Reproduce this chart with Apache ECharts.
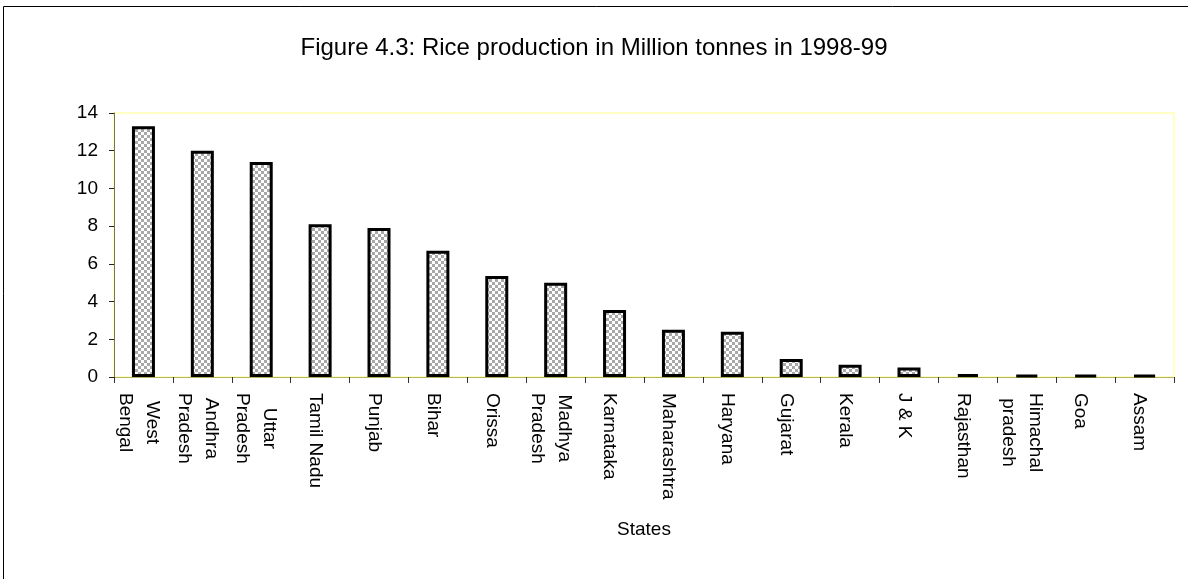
<!DOCTYPE html>
<html>
<head>
<meta charset="utf-8">
<title>Rice production 1998-99</title>
<script src="https://cdn.jsdelivr.net/npm/echarts@6/dist/echarts.min.js"></script>
<style>
  html, body { margin: 0; padding: 0; background: #ffffff; }
  #chart { width: 1188px; height: 579px; }
</style>
</head>
<body>
<div id="chart"></div>
<script>
// Rice production by state, million tonnes, 1998-99
const states = [
  'West\nBengal', 'Andhra\nPradesh', 'Uttar\nPradesh', 'Tamil Nadu', 'Punjab',
  'Bihar', 'Orissa', 'Madhya\nPradesh', 'Karnataka', 'Maharashtra', 'Haryana',
  'Gujarat', 'Kerala', 'J & K', 'Rajasthan', 'Himachal\npradesh', 'Goa', 'Assam'
];
const production = [
  13.3, 12.0, 11.4, 8.1, 7.9,
  6.7, 5.35, 5.0, 3.55, 2.5, 2.4,
  0.95, 0.65, 0.5, 0.15, 0.1, 0.1, 0.1
];
const yTicks = { min: 0, max: 14, step: 2 };
const titleText = 'Figure 4.3: Rice production in Million tonnes in 1998-99';
const xAxisTitle = 'States';

const FONT = '"Liberation Sans", Arial, Helvetica, sans-serif';

// Grey and white checkerboard fill for the bars
function checkerPattern(cell, grey) {
  const c = document.createElement('canvas');
  c.width = cell * 2;
  c.height = cell * 2;
  const g = c.getContext('2d');
  g.fillStyle = '#ffffff';
  g.fillRect(0, 0, c.width, c.height);
  g.fillStyle = grey;
  g.fillRect(0, 0, cell, cell);
  g.fillRect(cell, cell, cell, cell);
  return c;
}

const chart = echarts.init(document.getElementById('chart'), null, { renderer: 'canvas' });

chart.setOption({
  backgroundColor: '#ffffff',
  animation: false,
  title: {
    text: titleText,
    left: 'center',
    top: 31,
    textStyle: { fontFamily: FONT, fontSize: 24, fontWeight: 'normal', color: '#000' }
  },
  // chart-area frame (its right and bottom edges run off the page)
  graphic: [{
    type: 'rect',
    silent: true,
    shape: { x: 3.5, y: 6.5, width: 2000, height: 2000 },
    style: { fill: 'none', stroke: '#000', lineWidth: 1 }
  }],
  grid: {
    left: 114,
    top: 113,
    width: 1060,
    height: 264,
    show: true,
    borderColor: '#ffffc4',
    borderWidth: 2,
    backgroundColor: 'transparent'
  },
  xAxis: {
    type: 'category',
    data: states,
    name: xAxisTitle,
    nameLocation: 'middle',
    nameGap: 143,
    nameTextStyle: { fontFamily: FONT, fontSize: 19, color: '#000' },
    axisLine: { show: true, lineStyle: { color: '#b4b45a', width: 1 } },
    axisTick: { show: true, interval: 0, length: 6, lineStyle: { color: '#333', width: 1 } },
    axisLabel: {
      interval: 0,
      rotate: -90,
      margin: 16,
      padding: [10, 0, 0, 0],
      color: '#000',
      fontFamily: FONT,
      fontSize: 19,
      lineHeight: 27,
      formatter: function (v) {
        return v.split('\n').map(function (s) { return '{c|' + s + '}'; }).join('\n');
      },
      rich: {
        c: { align: 'center', fontFamily: FONT, fontSize: 19, lineHeight: 27, color: '#000' }
      }
    },
    splitLine: { show: false }
  },
  yAxis: {
    type: 'value',
    min: yTicks.min,
    max: yTicks.max,
    interval: yTicks.step,
    axisLine: { show: true, lineStyle: { color: '#77774a', width: 1 } },
    axisTick: { show: true, length: 5, lineStyle: { color: '#222', width: 1 } },
    axisLabel: { margin: 16, color: '#000', fontFamily: FONT, fontSize: 19 },
    splitLine: { show: false }
  },
  series: [{
    type: 'bar',
    data: production,
    barWidth: 23,
    itemStyle: {
      color: { image: checkerPattern(3, '#a8a8a8'), repeat: 'repeat' },
      borderColor: '#000',
      borderWidth: 3
    }
  }]
});
</script>
</body>
</html>
